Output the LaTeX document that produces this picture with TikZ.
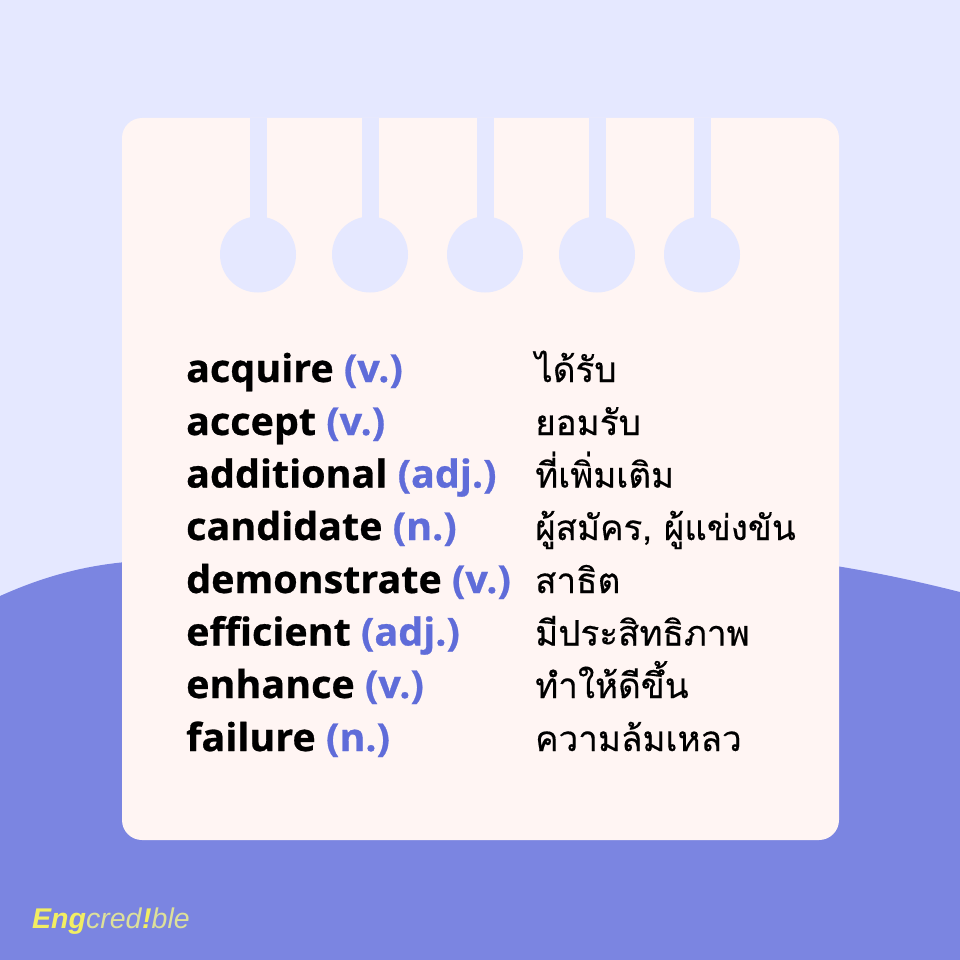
\documentclass[tikz,border=0pt]{standalone}
\usepackage{fontspec}
\setmainfont{Open Sans}
\newfontfamily\heavy[BoldFeatures={FakeBold=0.7,FakeStretch=1.025}]{Open Sans}
\newfontfamily\thaifont[Script=Thai,FakeBold=0.4]{Loma}
\newfontfamily\logofont{Liberation Sans}
\definecolor{bgtop}{HTML}{E5E8FF}
\definecolor{bgwave}{HTML}{7B85E1}
\definecolor{card}{HTML}{FFF5F3}
\definecolor{tag}{HTML}{5F6CD9}
\definecolor{logoy}{HTML}{F2EE62}
\definecolor{logop}{HTML}{DDE09A}
\tikzset{x=1pt,y=-1pt,
 hole/.style={fill=bgtop,draw=none},
 word/.style={anchor=base west,font=\fontsize{38.5}{40}\heavy\bfseries,text=black,inner sep=0pt},
 thai/.style={anchor=base west,font=\fontsize{35}{40}\thaifont,text=black,inner sep=0pt}}
\newcommand{\pos}[1]{\textcolor{tag}{#1}}
\begin{document}
\begin{tikzpicture}
\useasboundingbox (0,0) rectangle (960,960);
\fill[bgtop] (0,0) rectangle (960,960);
\fill[bgwave] (0,596) .. controls (40,578) and (85,564) .. (140,561) .. controls (250,558) and (300,566) .. (480,566) -- (830,565) .. controls (880,573) and (920,582) .. (960,592) -- (960,960) -- (0,960) -- cycle;
\fill[card,rounded corners=20] (122,118) rectangle (839,840);
\foreach \n/\cx/\rx in {a/258/258,b/370/370,c/485/485,d/597/597,e/702/702}{
 \fill[hole] (\rx-8.5,118) rectangle (\rx+8.5,240);
 \fill[hole] (\cx,254.5) circle (38);
}
\foreach \n/\y/\en/\th in {
 w1/382/{acquire \pos{(v.)}}/{ได้รับ},
 w2/435/{accept \pos{(v.)}}/{ยอมรับ},
 w3/487.5/{additional \pos{(adj.)}}/{ที่เพิ่มเติม},
 w4/540/{candidate \pos{(n.)}}/{ผู้สมัคร, ผู้แข่งขัน},
 w5/593/{demonstrate \pos{(v.)}}/{สาธิต},
 w6/645.5/{efficient \pos{(adj.)}}/{มีประสิทธิภาพ},
 w7/698/{enhance \pos{(v.)}}/{ทำให้ดีขึ้น},
 w8/751/{failure \pos{(n.)}}/{ความล้มเหลว}}{
 \node[word] (\n) at (186,\y) {\en};
 \node[thai] (\n t) at (535,\y) {\th};
}
\node[anchor=base west,inner sep=0pt,font=\fontsize{28.5}{30}\logofont] (logo) at (32,928) {\textcolor{logoy}{\textbf{\textit{Eng}}}\textcolor{logop}{\textit{cred}}\textcolor{logoy}{\textbf{\textit{!}}}\textcolor{logop}{\textit{ble}}};
\end{tikzpicture}
\end{document}
